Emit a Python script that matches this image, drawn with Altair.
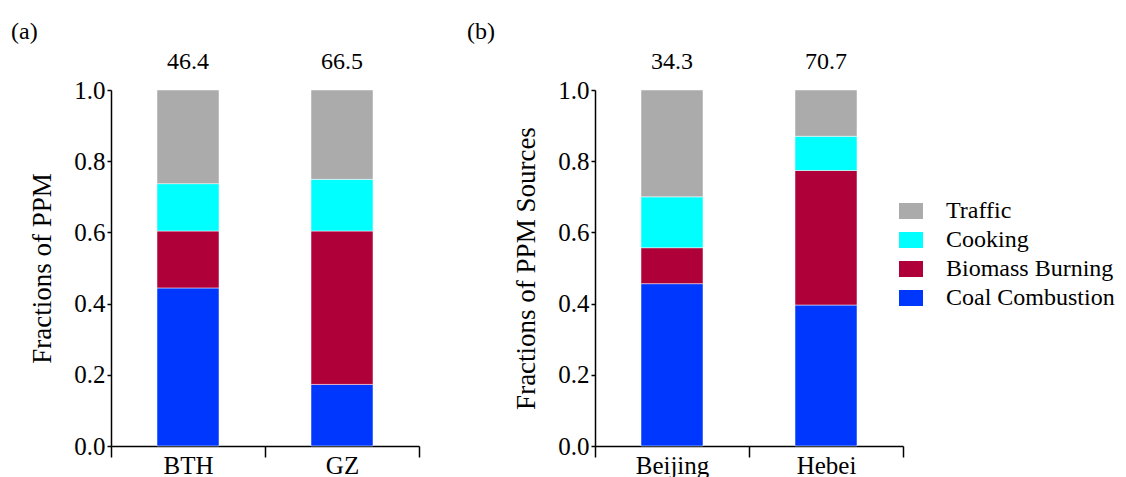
import altair as alt
import pandas as pd

FONT = "'Liberation Serif', 'DejaVu Serif', serif"

sources = ["Coal Combustion", "Biomass Burning", "Cooking", "Traffic"]
legend_order = ["Traffic", "Cooking", "Biomass Burning", "Coal Combustion"]
legend_colors = ["#ABABAB", "#00FFFF", "#AF003A", "#0037FF"]

regions_a = ["BTH", "GZ"]
coal_a = [0.444, 0.173]
biomass_a = [0.160, 0.431]
cooking_a = [0.133, 0.145]
traffic_a = [0.263, 0.251]
totals_a = ["46.4", "66.5"]

regions_b = ["Beijing", "Hebei"]
coal_b = [0.456, 0.396]
biomass_b = [0.101, 0.378]
cooking_b = [0.143, 0.096]
traffic_b = [0.300, 0.130]
totals_b = ["34.3", "70.7"]


def long_df(regions, coal, biomass, cooking, traffic):
    rows = []
    for i, r in enumerate(regions):
        for k, (s, vals) in enumerate(zip(sources, [coal, biomass, cooking, traffic])):
            rows.append({"region": r, "source": s, "idx": k, "frac": vals[i]})
    return pd.DataFrame(rows)


def panel(regions, df, totals, ytitle, tag, tag_x):
    xenc = alt.X(
        "region:N", sort=regions, title=None,
        scale=alt.Scale(paddingInner=0, paddingOuter=0),
        axis=alt.Axis(tickBand="extent", labelAngle=0, tickSize=11, labelPadding=-4,
                      labelFontSize=25, labelFont=FONT, labelColor="black",
                      domainColor="black", tickColor="black", domainWidth=1.5, tickWidth=1.5),
    )
    bars = alt.Chart(df).mark_bar(size=62, stroke="white", strokeWidth=0.5).encode(
        x=xenc,
        y=alt.Y("frac:Q", stack="zero", title=ytitle,
                scale=alt.Scale(domain=[0, 1], nice=False),
                axis=alt.Axis(values=[0, 0.2, 0.4, 0.6, 0.8, 1.0], format=".1f", grid=False,
                              tickSize=4, labelPadding=2, labelFontSize=25, labelFont=FONT,
                              labelColor="black", titleFont=FONT, titleFontSize=27,
                              titleFontWeight="normal", titleColor="black", titlePadding=17,
                              domainColor="black", tickColor="black", domainWidth=1.5, tickWidth=1.5)),
        color=alt.Color("source:N",
                        scale=alt.Scale(domain=legend_order, range=legend_colors),
                        legend=alt.Legend(title=None, orient="none", legendX=788, legendY=109,
                                          labelFont=FONT, labelFontSize=24, labelColor="black",
                                          symbolType="M-1,-0.667H1V0.667H-1Z", symbolSize=576,
                                          symbolStrokeWidth=0, labelOffset=23, rowPadding=5,
                                          padding=0, labelLimit=300)),
        order=alt.Order("idx:Q", sort="ascending"),
    )
    tot_df = pd.DataFrame({"region": regions, "total": totals})
    text = alt.Chart(tot_df).mark_text(fontSize=24, font=FONT, baseline="middle", color="black").encode(
        x=alt.X("region:N", sort=regions),
        y=alt.value(-28),
        text="total:N",
    )
    tag_df = pd.DataFrame({"t": [tag]})
    tag_text = alt.Chart(tag_df).mark_text(fontSize=24, font=FONT, align="left", baseline="middle",
                                           color="black").encode(
        x=alt.value(tag_x),
        y=alt.value(-58),
        text="t:N",
    )
    return alt.layer(bars, text, tag_text).properties(width=308, height=356)


df_a = long_df(regions_a, coal_a, biomass_a, cooking_a, traffic_a)
df_b = long_df(regions_b, coal_b, biomass_b, cooking_b, traffic_b)

pa = panel(regions_a, df_a, totals_a, "Fractions of PPM", "(a)", -100)
pb = panel(regions_b, df_b, totals_b, "Fractions of PPM Sources", "(b)", -128)

chart = alt.hconcat(pa, pb, spacing=47).properties(
    padding={"left": 3, "top": 12, "right": 0, "bottom": 0}
).configure_view(stroke=None)

chart.save("out.html", embed_options={"renderer": "svg", "actions": False})
